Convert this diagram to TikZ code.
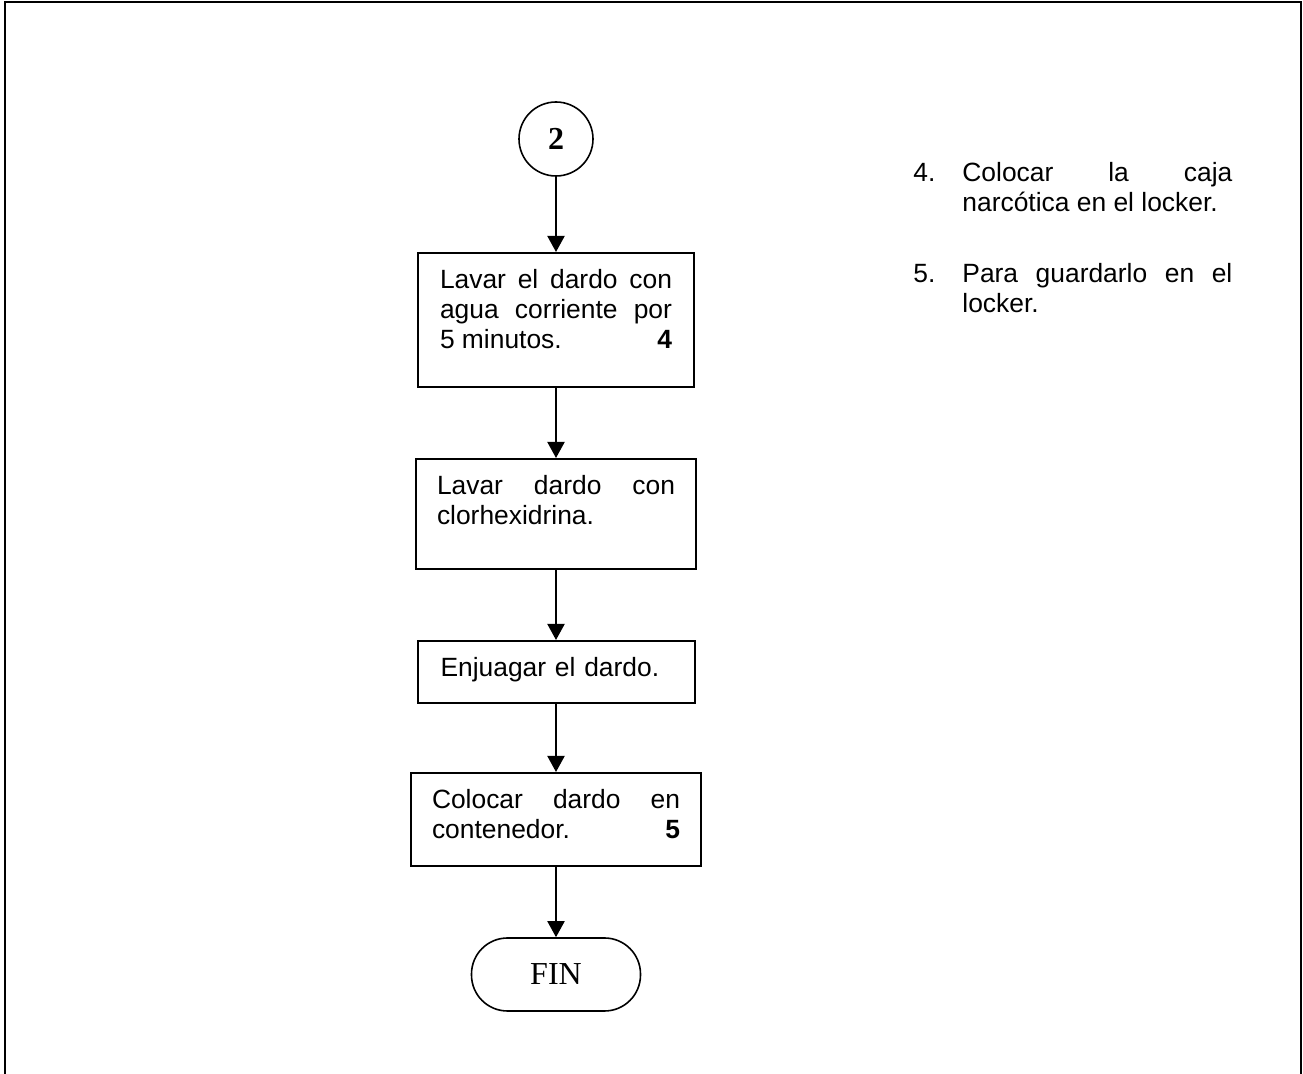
\documentclass[tikz,border=0pt]{standalone}
\usepackage{fontspec}
\setmainfont{Liberation Sans}
\newfontfamily\timesfont{Liberation Serif}
\usetikzlibrary{arrows.meta}

\begin{document}
\begin{tikzpicture}[x=0.5pt, y=-0.5pt,
	stepbox/.style={draw, line width=1pt, inner ysep=0pt, text height=18pt, align=justify, font=\fontsize{13.2}{15}\selectfont},
	flow/.style={-{Triangle[length=8pt,width=8.5pt]}, line width=1pt},
	note/.style={anchor=base west, inner sep=0pt, font=\fontsize{13.2}{15}\selectfont}]
	% page
	\useasboundingbox (0,0) rectangle (1303,1074);
	\draw[line width=1pt] (5,1074) -- (5,2) -- (1301,2) -- (1301,1074);
	% connector and end
	\node[draw, circle, line width=0.8pt, minimum size=37pt, inner sep=0pt, font=\timesfont\bfseries\fontsize{16}{16}\selectfont] (con2) at (556,139) {2};
	\node[draw, rounded corners=18pt, line width=0.8pt, minimum width=84.5pt, minimum height=36.5pt, font=\timesfont\fontsize{16}{16}\selectfont] (fin) at (556,974.5) {FIN};
	% steps
	\node[stepbox, anchor=north, text width=116pt, inner xsep=11pt, text depth=49pt] (lavar) at (556,252)
		{Lavar el dardo con\linebreak agua corriente por\linebreak 5 minutos.\hfill\textbf{4}\hspace*{3pt}};
	\node[stepbox, anchor=north, text width=119pt, inner xsep=10.5pt, text depth=37pt] (clorhex) at (556,458)
		{Lavar dardo con\linebreak clorhexidrina.};
	\node[stepbox, anchor=north, text width=115.5pt, inner xsep=11.5pt, text depth=13pt, align=left] (enjuagar) at (556,640)
		{Enjuagar el dardo.};
	\node[stepbox, anchor=north, text width=124pt, inner xsep=10.5pt, text depth=28.5pt] (colocar) at (556,772)
		{Colocar dardo en\linebreak contenedor.\hfill\textbf{5}\hspace*{6pt}};
	\draw[flow] (con2) -- (lavar);
	\draw[flow] (lavar) -- (clorhex);
	\draw[flow] (clorhex) -- (enjuagar);
	\draw[flow] (enjuagar) -- (colocar);
	\draw[flow] (colocar) -- (fin);
	% notes
	\node[note] (nota4) at (913,182)
		{\makebox[24.5pt][l]{4.}\parbox[t]{135pt}{Colocar la caja\linebreak narcótica en el locker.}};
	\node[note] (nota5) at (913,283)
		{\makebox[24.5pt][l]{5.}\parbox[t]{135pt}{Para guardarlo en el\linebreak locker.}};
\end{tikzpicture}
\end{document}
